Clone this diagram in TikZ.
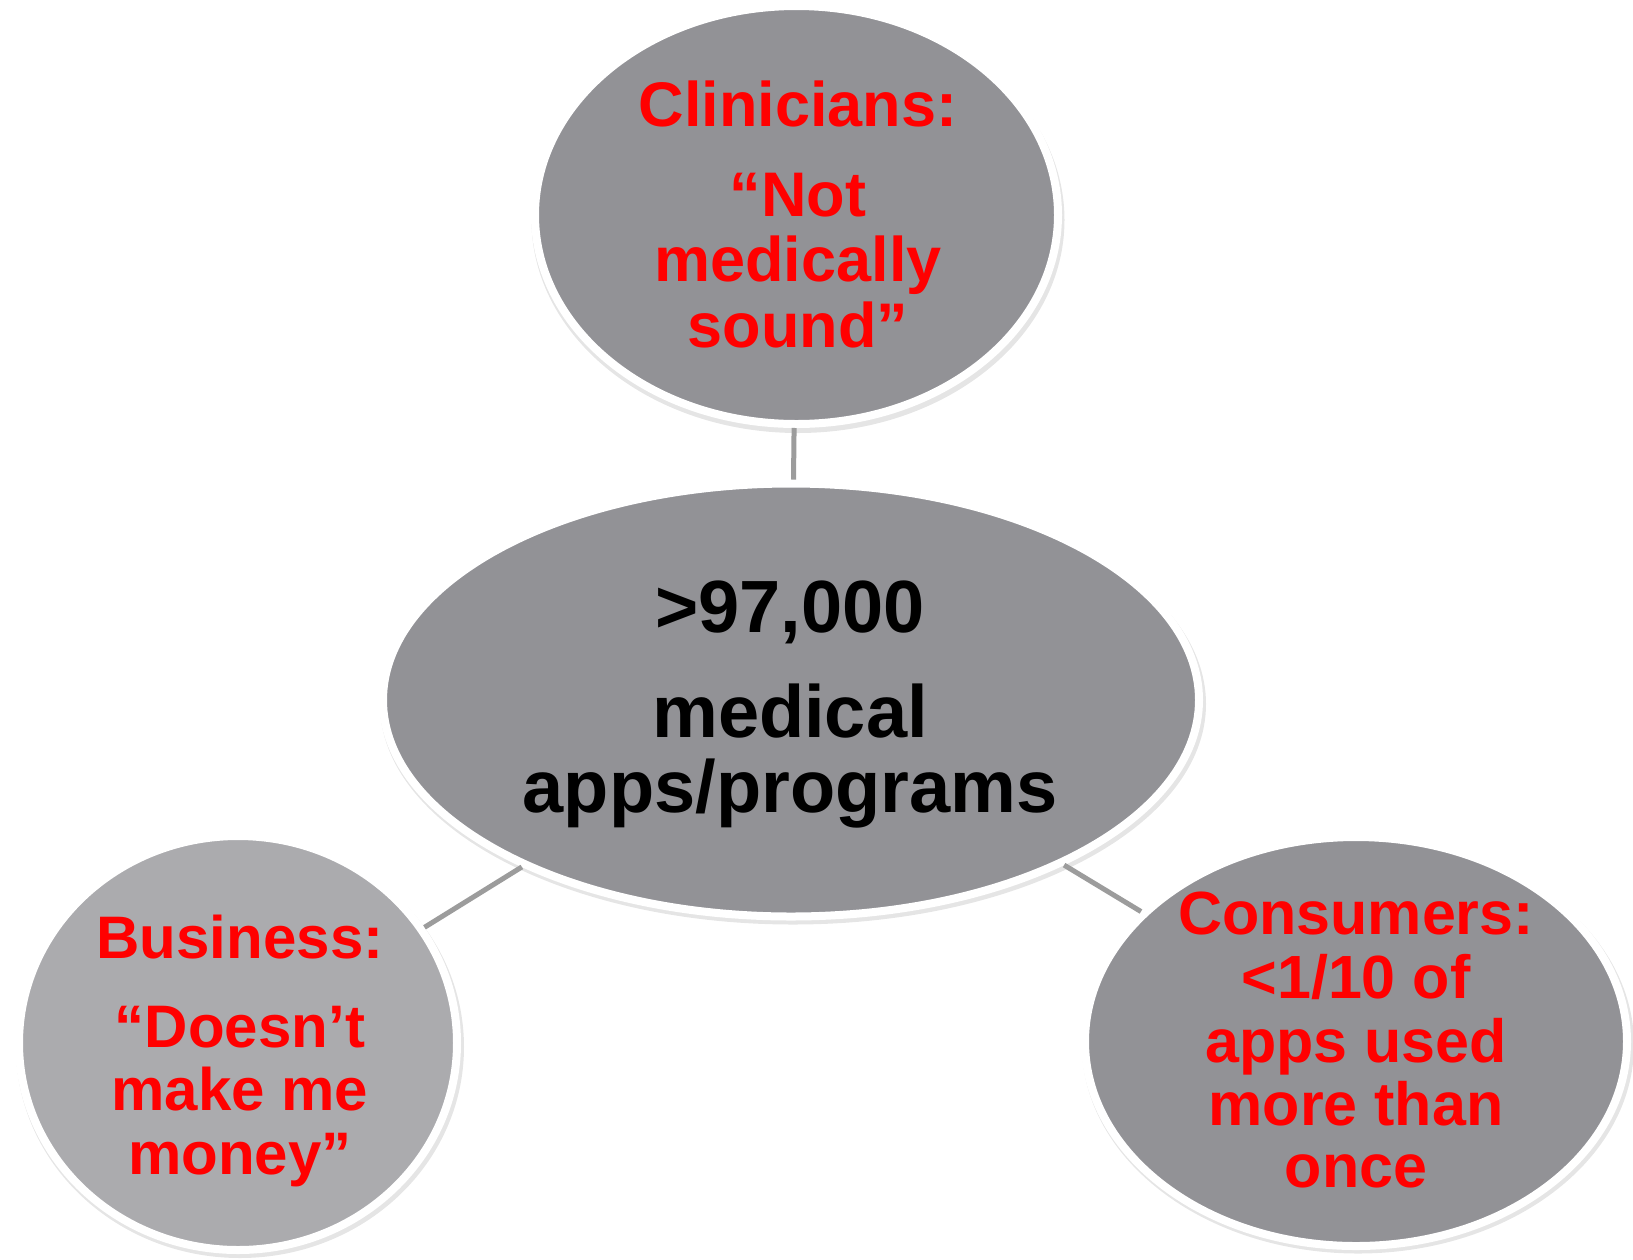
\documentclass[tikz,border=0pt]{standalone}
\usepackage{fontspec}
\setmainfont{Liberation Sans}
\usetikzlibrary{shapes.geometric}
\definecolor{bubgray}{HTML}{929296}
\definecolor{bublight}{HTML}{ABABAE}
\definecolor{conngray}{HTML}{9C9C9C}
\definecolor{txtred}{HTML}{FF0000}
\tikzset{
  bubble/.style={ellipse, draw=white, line width=8pt, inner sep=0pt, fill=bubgray},
  bubshadow/.style={ellipse, fill=black, opacity=0.10, inner sep=0pt, draw=none},
  conn/.style={draw=conngray, line width=5pt},
  lbl/.style={anchor=base, inner sep=0pt, font=\bfseries},
}
\begin{document}
\begin{tikzpicture}[x=1pt,y=-1pt]
\useasboundingbox[fill=white] (0,0) rectangle (1633,1259);

% shadows
\node[bubshadow, minimum width=533pt, minimum height=426pt] (shtop) at (798,220) {};
\node[bubshadow, minimum width=826pt, minimum height=441pt] (shcenter) at (793,704) {};
\node[bubshadow, minimum width=448pt, minimum height=422pt] (shleft) at (240,1047) {};
\node[bubshadow, minimum width=552pt, minimum height=417pt] (shright) at (1358,1045) {};

% bubbles
\node[bubble, minimum width=523pt, minimum height=418pt] (top) at (796.5,215) {};
\node[bubble, minimum width=816pt, minimum height=433pt] (center) at (791,700) {};
\node[bubble, fill=bublight, minimum width=438pt, minimum height=414pt] (left) at (238,1043) {};
\node[bubble, minimum width=542pt, minimum height=409pt] (right) at (1356,1041.5) {};

% connectors
\draw[conn] (top) -- (center);
\draw[conn] (left) -- (center);
\draw[conn] (center) -- (right);

% top text
\begin{scope}[every node/.append style={text=txtred}]
\node[lbl, font=\bfseries\fontsize{63}{63}\selectfont] (t1) at (798,126) {Clinicians:};
\node[lbl, font=\bfseries\fontsize{63}{63}\selectfont] (t2) at (798,216) {“Not};
\node[lbl, font=\bfseries\fontsize{63}{63}\selectfont] (t3) at (798,281) {medically};
\node[lbl, font=\bfseries\fontsize{63}{63}\selectfont] (t4) at (798,347) {sound”};
% left text
\node[lbl, font=\bfseries\fontsize{60}{60}\selectfont] (l1) at (240,958) {Business:};
\node[lbl, font=\bfseries\fontsize{60}{60}\selectfont] (l2) at (240,1047) {“Doesn’t};
\node[lbl, font=\bfseries\fontsize{60}{60}\selectfont] (l3) at (240,1110) {make me};
\node[lbl, font=\bfseries\fontsize{60}{60}\selectfont] (l4) at (240,1174) {money”};
% right text
\node[lbl, font=\bfseries\fontsize{61}{61}\selectfont] (r1) at (1356,934) {Consumers:};
\node[lbl, font=\bfseries\fontsize{61}{61}\selectfont] (r2) at (1356,998) {<1/10 of};
\node[lbl, font=\bfseries\fontsize{61}{61}\selectfont] (r3) at (1356,1062) {apps used};
\node[lbl, font=\bfseries\fontsize{61}{61}\selectfont] (r4) at (1356,1125) {more than};
\node[lbl, font=\bfseries\fontsize{61}{61}\selectfont] (r5) at (1356,1187) {once};
\end{scope}
% center text
\node[lbl, font=\bfseries\fontsize{74}{74}\selectfont] (c1) at (790,632) {>97,000};
\node[lbl, font=\bfseries\fontsize{74}{74}\selectfont] (c2) at (790,737) {medical};
\node[lbl, font=\bfseries\fontsize{74}{74}\selectfont] (c3) at (790,812) {apps/programs};
\end{tikzpicture}
\end{document}
